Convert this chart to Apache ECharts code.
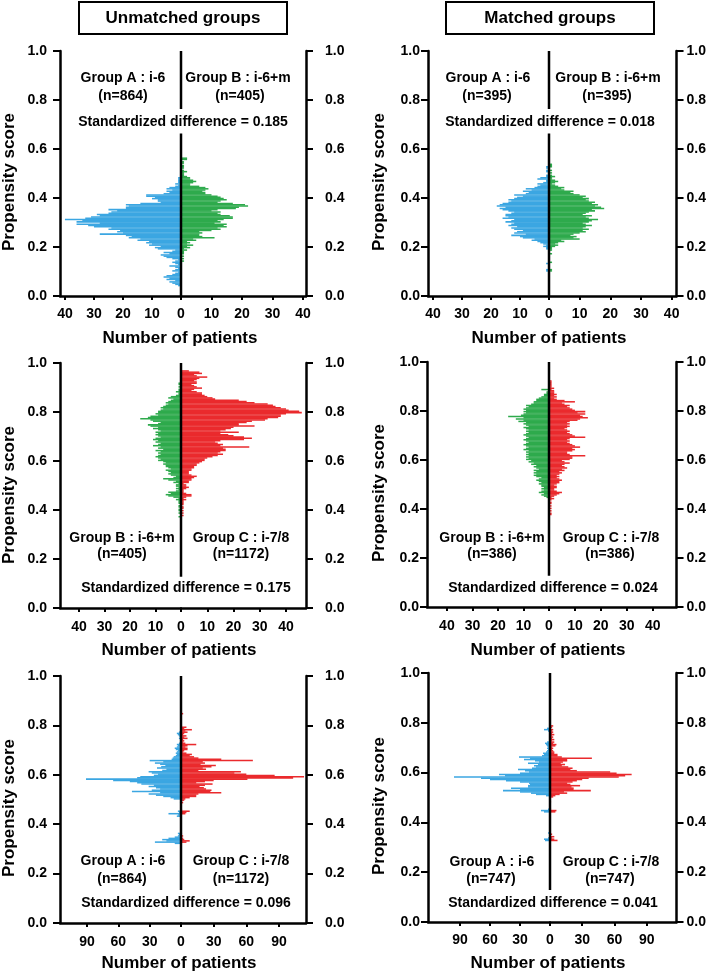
<!DOCTYPE html>
<html>
<head>
<meta charset="utf-8">
<script src="https://cdn.jsdelivr.net/npm/echarts@6/dist/echarts.min.js"></script>
<style>
html, body { margin: 0; padding: 0; background: #fff; }
#chart { width: 709px; height: 973px; }
</style>
</head>
<body>
<div id="chart"></div>
<script>
// propensity score histograms, bins of 0.005; counts listed from the "from" bin upward
const binWidth = 0.005;
const bins = Array.from({length: 200}, (v, k) => (k * binWidth).toFixed(3));

// Unmatched: Group A (i-6) vs Group B (i-6+m)
const unAB_A_from = 0.040;
const unAB_A = [1,2,3,4,2,5,4,6,5,3, 2,1,3,2,1,2,4,1,2,3, 2,1,3,5,6,7,4,6,3,2,
  8,9,7,11,10,12,11,15,14,18, 17,19,28,20,22,21,25,24,30,32, 36,28,36,34,40,33,31,28,29,25,
  24,22,25,19,19,18,19,14,7,8, 8,10,9,12,12,6,4,5,3,5, 4,2,1,2,1,1,1,1,1];
const unAB_B_from = 0.140;
const unAB_B = [1,0,1,0,1,0,1,1,1,2, 1,3,2,4,2,3,2,5,4,11, 7,6,6,7,6,10,13,12,15,14,
  15,11,13,12,14,17,17,16,13,12, 13,10,12,18,19,22,21,17,12,13, 15,14,13,12,10,8,8,7,8,9,
  8,6,3,3,4,5,4,3,3,2, 1,1,1,2,1,0,1,1,1,0, 1,1,0,2,2];

// Matched: Group A vs Group B
const mAB_A_from = 0.100;
const mAB_A = [1,1,0,0,0,0,1,0,0,0, 0,0,0,0,0,0,0,0,1,1, 2,1,2,3,4,6,5,9,10,13,
  8,12,11,9,12,13,11,14,13,12, 15,13,12,16,14,15,15,13,12,14, 16,17,15,18,17,16,14,13,14,12,
  11,9,12,8,7,9,6,8,5,4, 3,4,2,1,1,4,3,1,1,0, 0,1,1,0,1,1];
const mAB_B_from = 0.100;
const mAB_B = [1,1,0,0,0,0,0,1,0,0, 0,0,0,0,1,0,0,1,1,1, 2,3,2,3,5,4,10,8,9,7,
  8,10,12,11,13,11,12,14,12,11, 13,14,16,13,12,14,11,12,13,15, 14,18,17,15,16,14,15,13,12,13,
  11,12,10,8,7,8,5,4,5,3, 2,1,2,3,2,1,1,2,1,0, 1,0,1,0,0,1,1,1];

// Unmatched: Group B vs Group C (i-7/8)
const unBC_B_from = 0.370;
const unBC_B = [1,0,0,1,0,1,1,0,1,1, 0,1,1,1,2,1,3,5,6,4, 5,2,1,2,1,2,2,1,3,2,
  5,7,3,2,4,5,4,5,6,4, 5,6,6,7,6,7,9,8,9,10, 9,8,9,8,10,7,9,8,11,9,
  8,10,9,11,10,8,9,10,9,10, 8,9,11,9,12,13,9,8,11,12, 16,13,12,9,10,9,9,8,7,8,
  7,6,5,6,5,4,3,5,4,2, 1,1,2,1,1,0,1,0,1,1];
const unBC_C_from = 0.375;
const unBC_C = [1,0,1,0,1,0,1,1,0,1, 1,1,1,2,1,2,4,4,2,1, 1,1,2,3,2,2,1,3,3,4,
  4,5,6,4,3,3,3,4,4,5, 5,6,6,7,8,9,9,10,12,14, 16,14,15,17,17,16,26,15,16,14,
  13,15,24,27,24,20,18,15,22,15, 17,19,20,28,22,22,25,27,32,33, 37,38,38,40,46,45,41,40,38,36,
  35,33,28,25,22,13,12,10,9,8, 8,6,4,5,8,6,5,4,6,6, 5,6,7,10,6,5,8,7,3];

// Matched: Group B vs Group C
const mBC_B_from = 0.445;
const mBC_B = [1,2,3,2,4,3,2,3,2,3, 3,4,3,4,5,4,3,5,6,5, 6,5,6,4,5,6,5,7,6,8,
  7,9,8,9,8,9,8,9,8,10, 9,8,9,10,9,8,9,10,9,8, 9,10,9,8,9,8,9,10,8,9,
  10,9,12,10,13,10,16,11,10,9, 10,9,10,9,8,9,7,6,6,5, 5,4,3,2,2,1,1,0,3];
const mBC_C_from = 0.375;
const mBC_C = [1,1,0,1,0,1,0,1,0,1, 1,0,1,2,1,2,3,4,5,3, 2,2,3,3,2,3,4,4,5,4,
  3,4,3,4,5,4,6,5,7,6, 5,6,8,6,5,8,9,9,14,8, 7,7,9,10,9,12,10,9,8,7,
  8,7,8,14,10,9,8,7,8,7, 6,7,8,7,8,7,8,11,12,15, 13,12,14,11,14,10,9,8,7,8,
  6,5,10,6,3,2,3,2,3,2, 2,2,1,2,1,1,1,1,1,1];

// Unmatched: Group A vs Group C
const unAC_A_from = 0.320;
const unAC_A = [6,25,14,18,12,6,3,2,3,0, 0,0,0,0,0,0,0,0,0,0, 0,0,4,3,12,2,3,0,0,0,
  0,0,0,1,0,0,7,10,17,24, 31,20,47,28,20,24,31,26,38,42, 49,65,91,42,39,26,22,28,31,18,
  14,23,19,15,20,25,17,30,9,8, 7,5,4,5,4,3,5,6,4,3, 4,2,1,0,0,2,1,2,3,4,2];
const unAC_C_from = 0.325;
const unAC_C = [5,8,3,2,1,2,0,1,0,0, 0,0,0,0,0,0,0,0,0,0, 0,0,0,4,5,8,1,0,0,0,
  0,0,2,1,3,4,8,14,14,16, 37,27,28,23,21,17,22,29,14,22, 30,61,103,113,86,60,49,55,16,23,
  20,28,32,18,22,20,66,37,16,12, 8,10,5,2,3,6,6,4,6,14, 4,2,3,2,6,3,5,2,3,6,
  4,10,3,5,0,0,0,0,0,0, 0,0,0,0,2];

// Matched: Group A vs Group C
const mAC_A_from = 0.325;
const mAC_A = [5,6,2,0,1,0,2,0,0,0, 0,0,0,0,0,0,0,0,0,0, 0,0,0,6,9,2,0,0,0,0,
  0,0,0,0,0,0,4,14,19,30, 47,30,39,22,22,20,21,30,44,60, 69,96,45,51,30,21,25,32,18,14,
  16,12,22,11,15,26,20,31,8,6, 7,4,3,2,3,2,3,4,5,3, 1,0,0,0,0,0,0,0,2,6,3];
const mAC_C_from = 0.325;
const mAC_C = [7,4,2,4,1,2,0,0,0,0, 0,0,0,0,0,0,0,0,0,0, 0,0,0,5,6,1,0,0,0,0,
  0,1,0,0,0,3,5,9,16,13, 38,22,22,20,28,19,16,21,25,30, 36,64,70,76,62,56,25,19,21,17,
  11,14,10,12,16,16,39,11,7,7, 4,4,3,2,3,2,5,6,3,4, 2,4,2,3,2,4,2,3,2,3,1,2,3];

const countTicks40 = [10, 20, 30, 40];
const countTicks90 = [30, 60, 90];

const BLUE = '#3ba6e2';
const GREEN = '#2eaa4c';
const RED = '#ea2a2d';
const FONT = '"Liberation Sans", Arial, sans-serif';

const panels = [
  { L: 60, C: 181, R: 306, T: 51, H: 245, lmax: 41.7, rmax: 41, step: 10, ticks: countTicks40,
    left: [unAB_A_from, unAB_A, BLUE], right: [unAB_B_from, unAB_B, GREEN],
    line: [[1, 0.763], [0.663, 0]], yl: 13, yr: 19, xm: 11 },
  { L: 428, C: 549, R: 677, T: 51, H: 245, lmax: 41.7, rmax: 41.6, step: 10, ticks: countTicks40,
    left: [mAB_A_from, mAB_A, BLUE], right: [mAB_B_from, mAB_B, GREEN],
    line: [[1, 0.763], [0.663, 0]], yl: 8, yr: 10, xm: 11 },
  { L: 60, C: 181, R: 306, T: 363, H: 245, lmax: 47.5, rmax: 47.6, step: 10, ticks: countTicks40,
    left: [unBC_B_from, unBC_B, GREEN], right: [unBC_C_from, unBC_C, RED],
    line: [[1, 0.128]], yl: 13, yr: 19, xm: 12 },
  { L: 427, C: 549, R: 677, T: 362, H: 245, lmax: 47.8, rmax: 49.2, step: 10, ticks: countTicks40,
    left: [mBC_B_from, mBC_B, GREEN], right: [mBC_C_from, mBC_C, RED],
    line: [[1, 0.128]], yl: 8, yr: 10, xm: 12 },
  { L: 60, C: 181, R: 306, T: 676, H: 247, lmax: 115.9, rmax: 114.8, step: 30, ticks: countTicks90,
    left: [unAC_A_from, unAC_A, BLUE], right: [unAC_C_from, unAC_C, RED],
    line: [[1, 0.134]], yl: 13, yr: 19, xm: 12 },
  { L: 428, C: 550, R: 677, T: 673, H: 249, lmax: 122, rmax: 117.8, step: 30, ticks: countTicks90,
    left: [mAC_A_from, mAC_A, BLUE], right: [mAC_C_from, mAC_C, RED],
    line: [[1, 0.129]], yl: 8, yr: 10, xm: 11 }
];

// text placed inside / around the panels: [text, x, y]
const notes = [
  ['Group A : i-6', 123, 78], ['(n=864)', 123, 96], ['Group B : i-6+m', 238, 78], ['(n=405)', 240, 96],
  ['Standardized difference = 0.185', 183, 122],
  ['Group A : i-6', 488, 78], ['(n=395)', 487, 96], ['Group B : i-6+m', 608, 78], ['(n=395)', 607, 96],
  ['Standardized difference = 0.018', 550, 122],
  ['Group B : i-6+m', 122, 538], ['(n=405)', 122, 554], ['Group C : i-7/8', 241, 538], ['(n=1172)', 241, 554],
  ['Standardized difference = 0.175', 186, 588],
  ['Group B : i-6+m', 492, 538], ['(n=386)', 492, 554], ['Group C : i-7/8', 611, 538], ['(n=386)', 610, 554],
  ['Standardized difference = 0.024', 553, 588],
  ['Group A : i-6', 123, 861], ['(n=864)', 122, 879], ['Group C : i-7/8', 241, 861], ['(n=1172)', 241, 879],
  ['Standardized difference = 0.096', 186, 903],
  ['Group A : i-6', 492, 862], ['(n=747)', 491, 879], ['Group C : i-7/8', 611, 862], ['(n=747)', 610, 879],
  ['Standardized difference = 0.041', 553, 903]
];
const xNames = [[180, 338], [549, 338], [179, 650], [548, 650], [179, 963], [548, 963]];
const yNames = [[9, 182], [379, 182], [9, 495], [379, 493], [9, 808], [379, 806]];

function toData(from, counts) {
  const out = bins.map(() => null);
  const s = Math.round(from / binWidth);
  counts.forEach((c, i) => { if (c) out[s + i] = c; });
  return out;
}

const option = {
  animation: false,
  textStyle: { fontFamily: FONT, color: '#000' },
  grid: [], xAxis: [], yAxis: [], series: [], graphic: []
};

let xAxisFor = function (gridIndex, inverse, max, step, labels, margin) {
  return {
    type: 'value', gridIndex: gridIndex, position: 'bottom', inverse: inverse,
    min: 0, max: max, interval: step,
    axisLine: { show: true, onZero: false, lineStyle: { color: '#000', width: 2.5 } },
    axisTick: { show: true, length: 4, customValues: labels, lineStyle: { color: '#000', width: 2 } },
    axisLabel: { customValues: labels, margin: margin, fontSize: 14, fontWeight: 'bold', color: '#000',
      fontFamily: FONT },
    splitLine: { show: false }
  };
};

let yAxisFor = function (gridIndex, position, margin) {
  return {
    type: 'value', gridIndex: gridIndex, position: position, min: 0, max: 1, interval: 0.2,
    axisLine: { show: true, onZero: false, lineStyle: { color: '#000', width: 2.5 } },
    axisTick: { show: true, length: 7, lineStyle: { color: '#000', width: 2 } },
    axisLabel: { margin: margin, fontSize: 14, fontWeight: 'bold', color: '#000', fontFamily: FONT,
      formatter: function (v) { return v.toFixed(1); } },
    splitLine: { show: false }
  };
};

panels.forEach(function (p) {
  const g = option.grid.length;
  const xi = option.xAxis.length;
  const yi = option.yAxis.length;
  option.grid.push({ left: p.L, top: p.T, width: p.C - p.L, height: p.H });
  option.grid.push({ left: p.C, top: p.T, width: p.R - p.C, height: p.H });
  option.xAxis.push(xAxisFor(g, true, p.lmax, p.step, p.ticks, p.xm));
  option.xAxis.push(xAxisFor(g + 1, false, p.rmax, p.step, [0].concat(p.ticks), p.xm));
  option.yAxis.push({ type: 'category', gridIndex: g, data: bins, show: false });
  option.yAxis.push(yAxisFor(g, 'left', p.yl));
  option.yAxis.push({ type: 'category', gridIndex: g + 1, data: bins, show: false });
  option.yAxis.push(yAxisFor(g + 1, 'right', p.yr));
  option.series.push({
    type: 'bar', xAxisIndex: xi, yAxisIndex: yi, data: toData(p.left[0], p.left[1]),
    barWidth: '125%', itemStyle: { color: p.left[2] }, silent: true
  });
  option.series.push({
    type: 'bar', xAxisIndex: xi + 1, yAxisIndex: yi + 2, data: toData(p.right[0], p.right[1]),
    barWidth: '125%', itemStyle: { color: p.right[2] }, silent: true
  });
  p.line.forEach(function (seg) {
    option.series.push({
      type: 'line', xAxisIndex: xi, yAxisIndex: yi + 1, data: [[0, seg[0]], [0, seg[1]]],
      symbol: 'none', clip: false, silent: true, z: 10,
      lineStyle: { color: '#000', width: 2.5 }
    });
  });
});

let textEl = function (text, x, y, size, rotation) {
  return {
    type: 'text', x: x, y: y, rotation: rotation || 0, z: 20, silent: true,
    style: { text: text, fill: '#000', font: 'bold ' + size + 'px ' + FONT,
      align: 'center', verticalAlign: 'middle', textAlign: 'center', textVerticalAlign: 'middle' }
  };
};

option.graphic.push({ type: 'rect', shape: { x: 79, y: 2, width: 208, height: 32 }, z: 20,
  style: { fill: '#fff', stroke: '#000', lineWidth: 2 } });
option.graphic.push({ type: 'rect', shape: { x: 446, y: 2, width: 208, height: 32 }, z: 20,
  style: { fill: '#fff', stroke: '#000', lineWidth: 2 } });
option.graphic.push(textEl('Unmatched groups', 183, 18, 17));
option.graphic.push(textEl('Matched groups', 550, 18, 17));
notes.forEach(function (n) { option.graphic.push(textEl(n[0], n[1], n[2], 14)); });
xNames.forEach(function (n) { option.graphic.push(textEl('Number of patients', n[0], n[1], 17)); });
yNames.forEach(function (n) { option.graphic.push(textEl('Propensity score', n[0], n[1], 17, Math.PI / 2)); });

const chart = echarts.init(document.getElementById('chart'));
chart.setOption(option);
</script>
</body>
</html>
